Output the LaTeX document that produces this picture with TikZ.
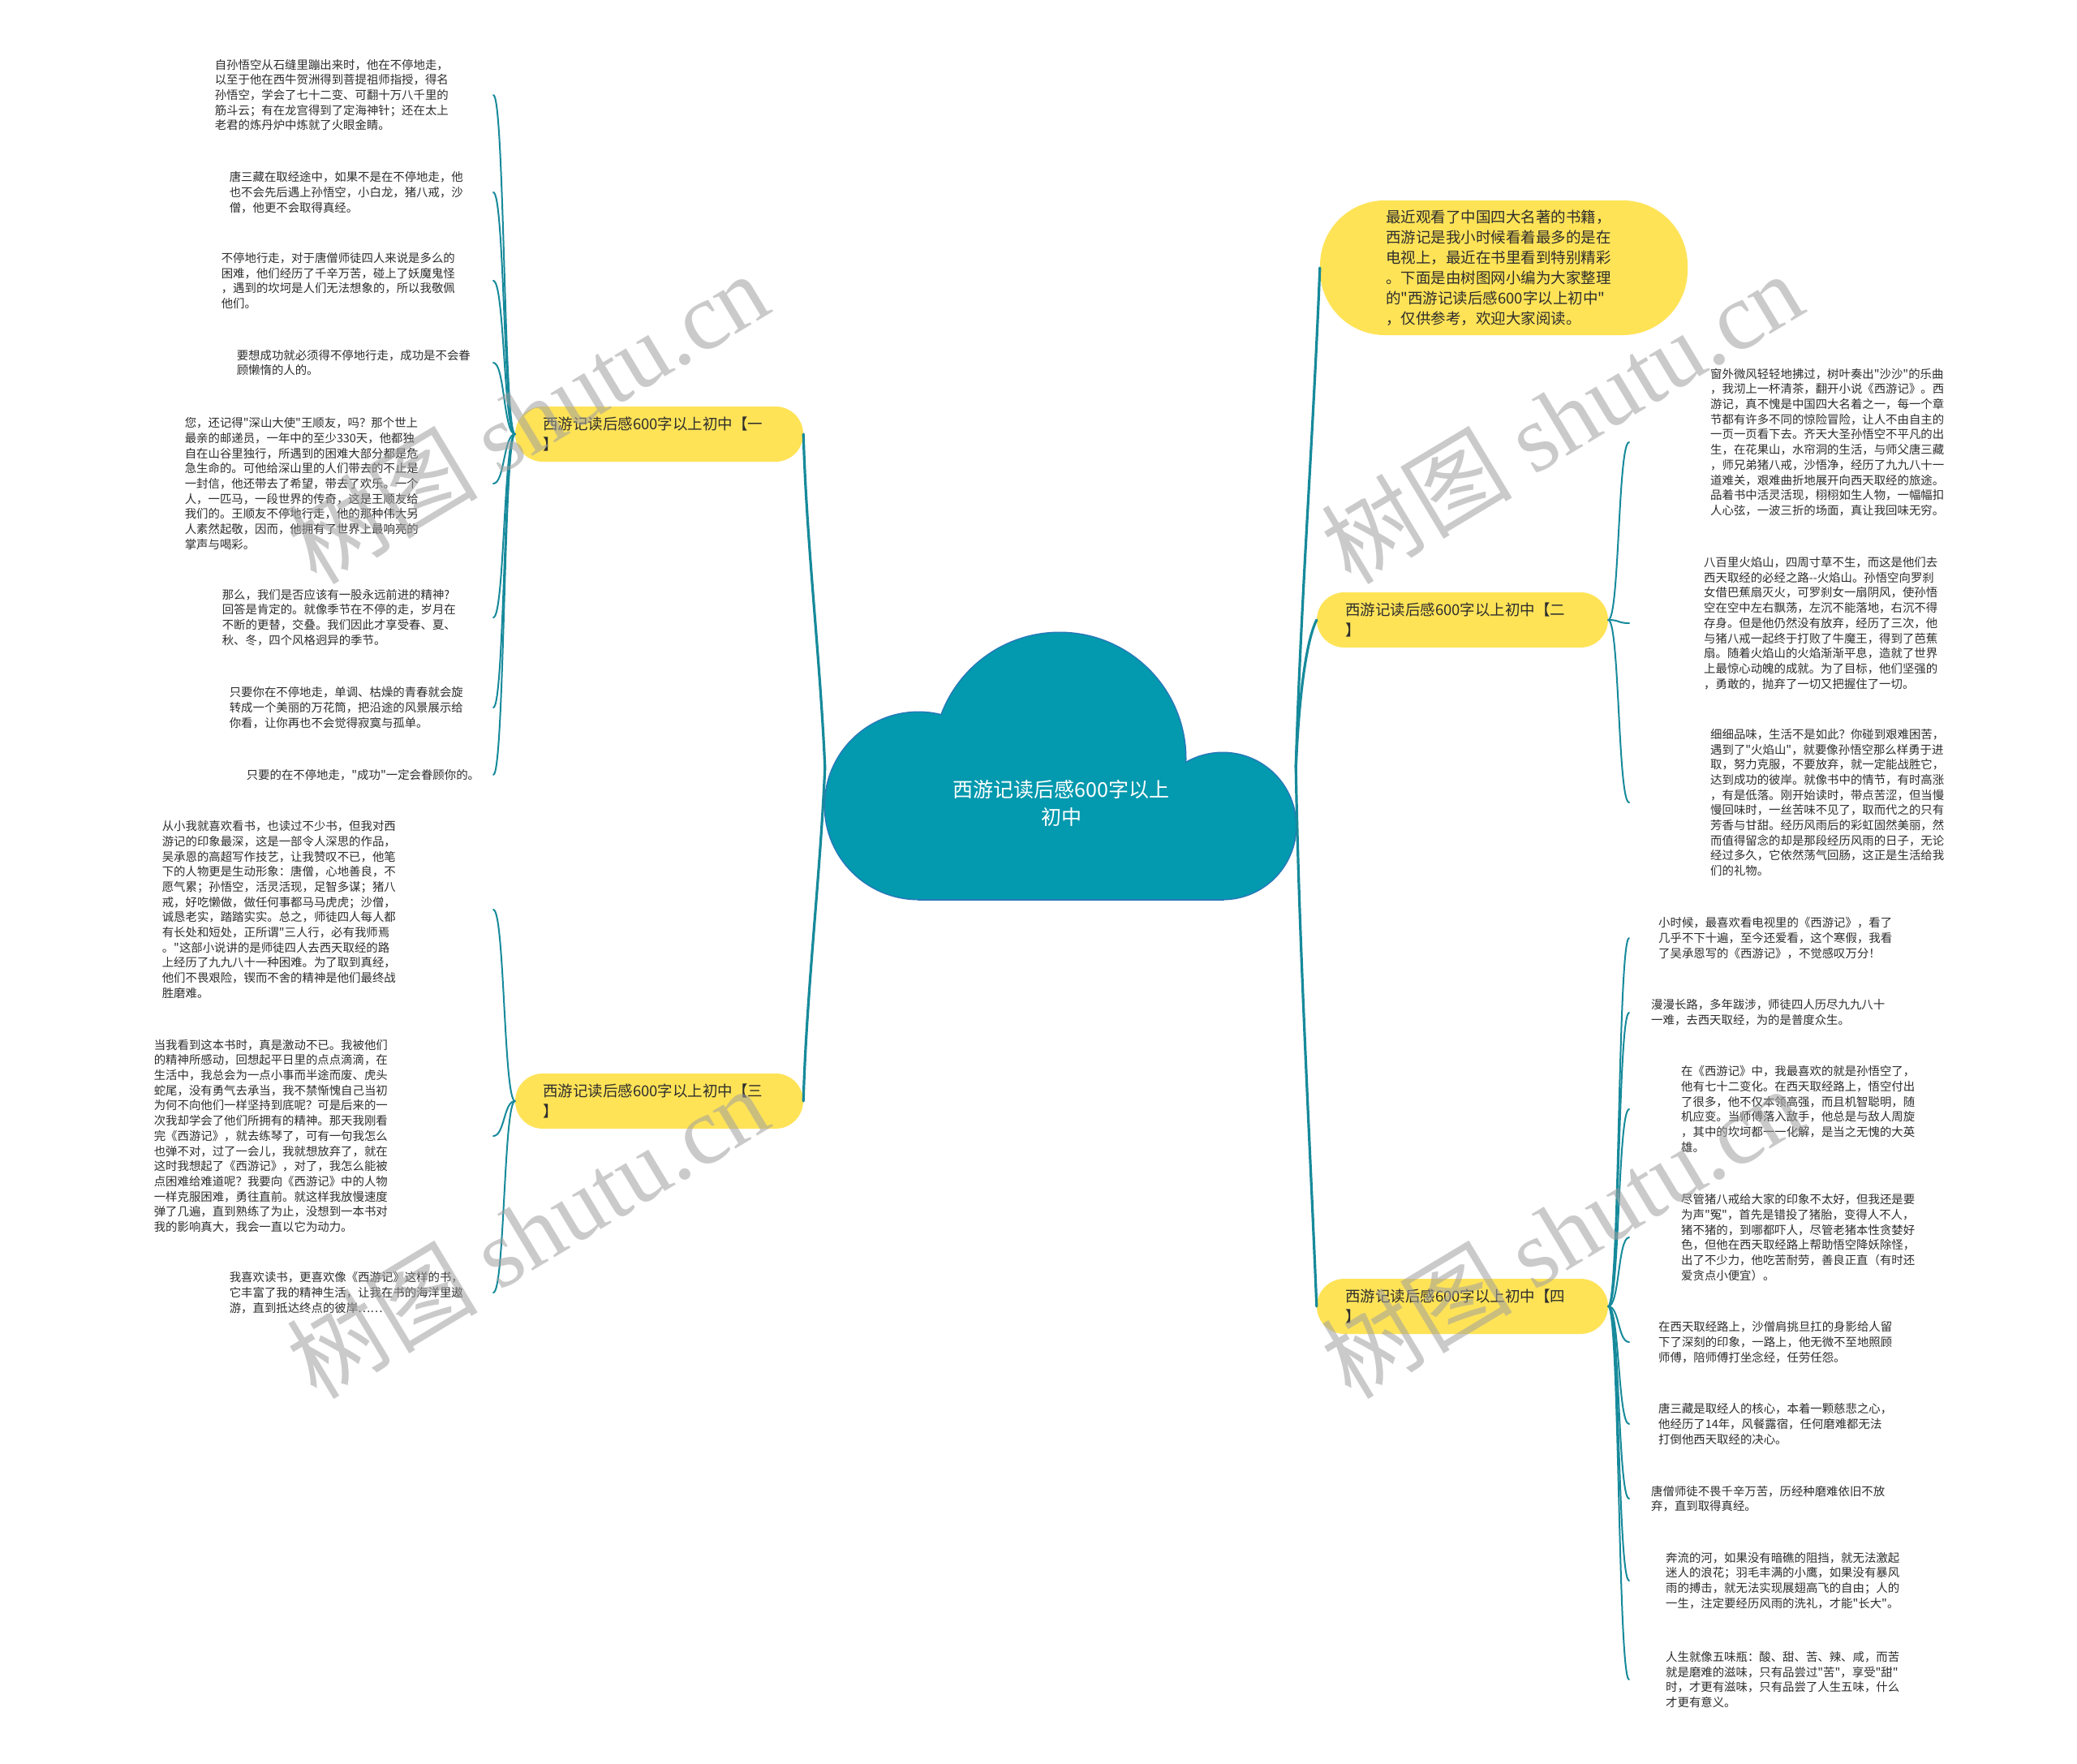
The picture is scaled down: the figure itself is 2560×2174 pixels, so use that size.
\documentclass[tikz,border=0pt]{standalone}
\usepackage{fontspec}
\newfontfamily\cjk{Noto Sans CJK SC}
\newfontfamily\wmlatin{Liberation Serif}
\definecolor{teal1}{RGB}{22,138,155}
\definecolor{cloudfill}{RGB}{3,153,174}
\definecolor{cloudedge}{RGB}{40,120,185}
\definecolor{yel}{RGB}{255,227,87}
\definecolor{txt}{RGB}{45,45,45}
\definecolor{wm}{RGB}{160,160,160}
\begin{document}
\begin{tikzpicture}[x=1pt,y=-1pt,
 leaf/.style={font=\cjk\fontsize{14.4}{18.7}\selectfont, text=txt, align=left, inner sep=0pt},
 lleaf/.style={leaf, anchor=east},
 rleaf/.style={leaf, anchor=west, inner ysep=0pt},
 branch/.style={fill=yel, rounded corners=34pt, minimum height=68pt, inner sep=0pt,
   font=\cjk\fontsize{18.5}{25}\selectfont, text=txt, align=left},
 mainline/.style={draw=teal1, line width=3.2pt, line cap=round},
 twig/.style={draw=teal1, line width=2pt, line cap=round},
 wmark/.style={text=wm, opacity=0.55, rotate=31, font=\fontsize{118}{120}\selectfont, inner sep=0pt}
]
\useasboundingbox (0,0) rectangle (2560,2174);
\fill[white] (0,0) rectangle (2560,2174);

% ---------- cloud ----------
\draw[cloudedge, line width=3pt] (1132,993) circle[radius=115pt];
\draw[cloudedge, line width=3pt] (1306,935) circle[radius=155pt];
\draw[cloudedge, line width=3pt] (1507,1018) circle[radius=90pt];
\draw[cloudedge, line width=3pt] (1132,960) rectangle (1507,1108);
\fill[cloudfill] (1132,993) circle[radius=115pt];
\fill[cloudfill] (1306,935) circle[radius=155pt];
\fill[cloudfill] (1507,1018) circle[radius=90pt];
\fill[cloudfill] (1132,960) rectangle (1507,1108);
\node[minimum width=580pt, minimum height=330pt, inner sep=0pt] (cloud) at (1307,946) {};
\node[font=\cjk\fontsize{25}{34}\selectfont, text=white, align=center] (root) at (1308,990) {西游记读后感600字以上\\初中};

% ---------- branch nodes ----------
\node[branch, minimum width=355pt, text width=287pt] (b1) at (812.5,535) {西游记读后感600字以上初中【一\\】};
\node[branch, minimum width=355pt, text width=287pt] (b3) at (812.5,1357) {西游记读后感600字以上初中【三\\】};
\node[branch, minimum width=359pt, text width=289pt] (b2) at (1802.5,764) {西游记读后感600字以上初中【二\\】};
\node[branch, minimum width=359pt, text width=289pt] (b4) at (1802.5,1610) {西游记读后感600字以上初中【四\\】};
\node[branch, rounded corners=80pt, minimum width=453pt, minimum height=166pt, text width=291pt] (intro) at (1853.5,330) {最近观看了中国四大名著的书籍，\\西游记是我小时候看着最多的是在\\电视上，最近在书里看到特别精彩\\。下面是由树图网小编为大家整理\\的"西游记读后感600字以上初中"\\，仅供参考，欢迎大家阅读。};

% ---------- left leaves ----------
\node[lleaf, text width=343pt] (l1) at (608,117) {自孙悟空从石缝里蹦出来时，他在不停地走，\\以至于他在西牛贺洲得到菩提祖师指授，得名\\孙悟空，学会了七十二变、可翻十万八千里的\\筋斗云；有在龙宫得到了定海神针；还在太上\\老君的炼丹炉中炼就了火眼金睛。};
\node[lleaf, text width=325pt] (l2) at (608,237) {唐三藏在取经途中，如果不是在不停地走，他\\也不会先后遇上孙悟空，小白龙，猪八戒，沙\\僧，他更不会取得真经。};
\node[lleaf, text width=335pt] (l3) at (608,346) {不停地行走，对于唐僧师徒四人来说是多么的\\困难，他们经历了千辛万苦，碰上了妖魔鬼怪\\，遇到的坎坷是人们无法想象的，所以我敬佩\\他们。};
\node[lleaf, text width=316pt] (l4) at (608,447) {要想成功就必须得不停地行走，成功是不会眷\\顾懒惰的人的。};
\node[lleaf, text width=380pt] (l5) at (608,596) {您，还记得"深山大使"王顺友，吗？那个世上\\最亲的邮递员，一年中的至少330天，他都独\\自在山谷里独行，所遇到的困难大部分都是危\\急生命的。可他给深山里的人们带去的不止是\\一封信，他还带去了希望，带去了欢乐。一个\\人，一匹马，一段世界的传奇，这是王顺友给\\我们的。王顺友不停地行走，他的那种伟大另\\人素然起敬，因而，他拥有了世界上最响亮的\\掌声与喝彩。};
\node[lleaf, text width=334pt] (l6) at (608,761) {那么，我们是否应该有一股永远前进的精神?\\回答是肯定的。就像季节在不停的走，岁月在\\不断的更替，交叠。我们因此才享受春、夏、\\秋、冬，四个风格迥异的季节。};
\node[lleaf, text width=325pt] (l7) at (608,872) {只要你在不停地走，单调、枯燥的青春就会旋\\转成一个美丽的万花筒，把沿途的风景展示给\\你看，让你再也不会觉得寂寞与孤单。};
\node[lleaf, text width=304pt] (l8) at (608,955) {只要的在不停地走，"成功"一定会眷顾你的。};
\node[lleaf, text width=408pt] (l9) at (608,1121) {从小我就喜欢看书，也读过不少书，但我对西\\游记的印象最深，这是一部令人深思的作品，\\吴承恩的高超写作技艺，让我赞叹不已，他笔\\下的人物更是生动形象：唐僧，心地善良，不\\愿气累；孙悟空，活灵活现，足智多谋；猪八\\戒，好吃懒做，做任何事都马马虎虎；沙僧，\\诚恳老实，踏踏实实。总之，师徒四人每人都\\有长处和短处，正所谓"三人行，必有我师焉\\。"这部小说讲的是师徒四人去西天取经的路\\上经历了九九八十一种困难。为了取到真经，\\他们不畏艰险，锲而不舍的精神是他们最终战\\胜磨难。};
\node[lleaf, text width=418pt] (l10) at (608,1400) {当我看到这本书时，真是激动不已。我被他们\\的精神所感动，回想起平日里的点点滴滴，在\\生活中，我总会为一点小事而半途而废、虎头\\蛇尾，没有勇气去承当，我不禁惭愧自己当初\\为何不向他们一样坚持到底呢？可是后来的一\\次我却学会了他们所拥有的精神。那天我刚看\\完《西游记》，就去练琴了，可有一句我怎么\\也弹不对，过了一会儿，我就想放弃了，就在\\这时我想起了《西游记》，对了，我怎么能被\\点困难给难道呢？我要向《西游记》中的人物\\一样克服困难，勇往直前。就这样我放慢速度\\弹了几遍，直到熟练了为止，没想到一本书对\\我的影响真大，我会一直以它为动力。};
\node[lleaf, text width=325pt] (l11) at (608,1593) {我喜欢读书，更喜欢像《西游记》这样的书，\\它丰富了我的精神生活，让我在书的海洋里遨\\游，直到抵达终点的彼岸……};

% ---------- right leaves ----------
\node[rleaf, inner xsep=100pt] (r1) at (2008,545) {窗外微风轻轻地拂过，树叶奏出"沙沙"的乐曲\\，我沏上一杯清茶，翻开小说《西游记》。西\\游记，真不愧是中国四大名着之一，每一个章\\节都有许多不同的惊险冒险，让人不由自主的\\一页一页看下去。齐天大圣孙悟空不平凡的出\\生，在花果山，水帘洞的生活，与师父唐三藏\\，师兄弟猪八戒，沙悟净，经历了九九八十一\\道难关，艰难曲折地展开向西天取经的旅途。\\品着书中活灵活现，栩栩如生人物，一幅幅扣\\人心弦，一波三折的场面，真让我回味无穷。};
\node[rleaf, inner xsep=92pt] (r2) at (2008,768) {八百里火焰山，四周寸草不生，而这是他们去\\西天取经的必经之路--火焰山。孙悟空向罗刹\\女借巴蕉扇灭火，可罗刹女一扇阴风，使孙悟\\空在空中左右飘荡，左沉不能落地，右沉不得\\存身。但是他仍然没有放弃，经历了三次，他\\与猪八戒一起终于打败了牛魔王，得到了芭蕉\\扇。随着火焰山的火焰渐渐平息，造就了世界\\上最惊心动魄的成就。为了目标，他们坚强的\\，勇敢的，抛弃了一切又把握住了一切。};
\node[rleaf, inner xsep=100pt] (r3) at (2008,989) {细细品味，生活不是如此？你碰到艰难困苦，\\遇到了"火焰山"，就要像孙悟空那么样勇于进\\取，努力克服，不要放弃，就一定能战胜它，\\达到成功的彼岸。就像书中的情节，有时高涨\\，有是低落。刚开始读时，带点苦涩，但当慢\\慢回味时，一丝苦味不见了，取而代之的只有\\芳香与甘甜。经历风雨后的彩虹固然美丽，然\\而值得留念的却是那段经历风雨的日子，无论\\经过多久，它依然荡气回肠，这正是生活给我\\们的礼物。};
\node[rleaf, inner xsep=36pt] (r4) at (2008,1156) {小时候，最喜欢看电视里的《西游记》，看了\\几乎不下十遍，至今还爱看，这个寒假，我看\\了吴承恩写的《西游记》，不觉感叹万分！};
\node[rleaf, inner xsep=27pt] (r5) at (2008,1248) {漫漫长路，多年跋涉，师徒四人历尽九九八十\\一难，去西天取经，为的是普度众生。};
\node[rleaf, inner xsep=64pt] (r6) at (2008,1367) {在《西游记》中，我最喜欢的就是孙悟空了，\\他有七十二变化。在西天取经路上，悟空付出\\了很多，他不仅本领高强，而且机智聪明，随\\机应变。当师傅落入敌手，他总是与敌人周旋\\，其中的坎坷都一一化解，是当之无愧的大英\\雄。};
\node[rleaf, inner xsep=64pt] (r7) at (2008,1525) {尽管猪八戒给大家的印象不太好，但我还是要\\为声"冤"，首先是错投了猪胎，变得人不人，\\猪不猪的，到哪都吓人，尽管老猪本性贪婪好\\色，但他在西天取经路上帮助悟空降妖除怪，\\出了不少力，他吃苦耐劳，善良正直（有时还\\爱贪点小便宜）。};
\node[rleaf, inner xsep=36pt] (r8) at (2008,1654) {在西天取经路上，沙僧肩挑旦扛的身影给人留\\下了深刻的印象，一路上，他无微不至地照顾\\师傅，陪师傅打坐念经，任劳任怨。};
\node[rleaf, inner xsep=36pt] (r9) at (2008,1755) {唐三藏是取经人的核心，本着一颗慈悲之心，\\他经历了14年，风餐露宿，任何磨难都无法\\打倒他西天取经的决心。};
\node[rleaf, inner xsep=27pt] (r10) at (2008,1847) {唐僧师徒不畏千辛万苦，历经种磨难依旧不放\\弃，直到取得真经。};
\node[rleaf, inner xsep=45pt] (r11) at (2008,1948) {奔流的河，如果没有暗礁的阻挡，就无法激起\\迷人的浪花；羽毛丰满的小鹰，如果没有暴风\\雨的搏击，就无法实现展翅高飞的自由；人的\\一生，注定要经历风雨的洗礼，才能"长大"。};
\node[rleaf, inner xsep=45pt] (r12) at (2008,2070) {人生就像五味瓶：酸、甜、苦、辣、咸，而苦\\就是磨难的滋味，只有品尝过"苦"，享受"甜"\\时，才更有滋味，只有品尝了人生五味，什么\\才更有意义。};

% ---------- main connectors ----------
\draw[mainline] (b1.east) .. controls +(4,137) and +(-6,-137) .. (cloud.west);
\draw[mainline] (b3.east) .. controls +(4,-137) and +(-6,137) .. (cloud.west);
\draw[mainline] (intro.west) .. controls +(-8,205) and +(6,-205) .. (cloud.east);
\draw[mainline] (b2.west) .. controls +(-15,30) and +(3,-70) .. (cloud.east);
\draw[mainline] (b4.west) .. controls +(-9,-220) and +(4,220) .. (cloud.east);

% ---------- leaf connectors ----------
\foreach \i in {1,...,8} \draw[twig] (b1.west) .. controls +(-14,0) and +(14,0) .. (l\i.east);
\foreach \i in {9,10,11} \draw[twig] (b3.west) .. controls +(-14,0) and +(14,0) .. (l\i.east);
\foreach \i in {1,2,3} \draw[twig] (b2.east) .. controls +(14,0) and +(-14,0) .. (r\i.west);
\foreach \i in {4,...,12} \draw[twig] (b4.east) .. controls +(14,0) and +(-14,0) .. (r\i.west);

% ---------- watermarks ----------
\node[wmark] (wm1) at (650,514) {\cjk 树图 \wmlatin shutu.cn};
\node[wmark] (wm2) at (1925,514) {\cjk 树图 \wmlatin shutu.cn};
\node[wmark] (wm3) at (650,1518) {\cjk 树图 \wmlatin shutu.cn};
\node[wmark] (wm4) at (1925,1518) {\cjk 树图 \wmlatin shutu.cn};
\end{tikzpicture}
\end{document}
